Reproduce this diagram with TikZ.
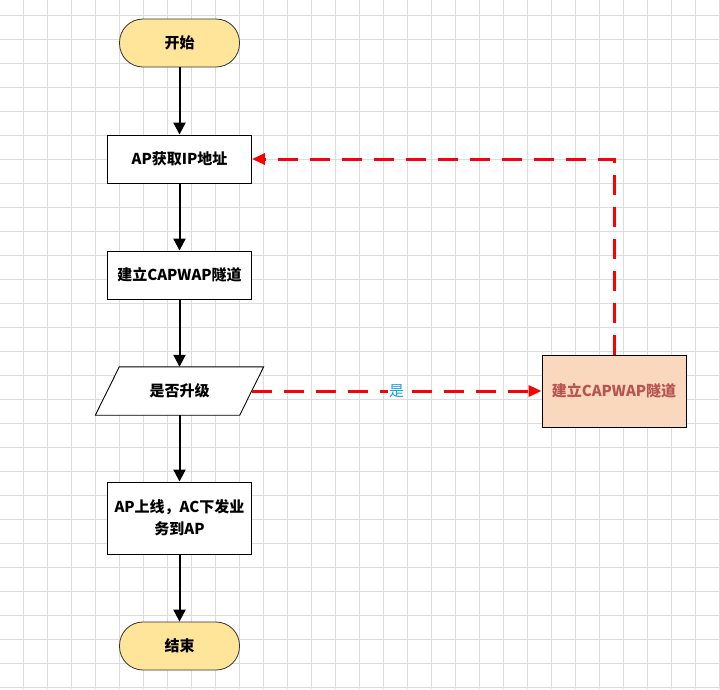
\documentclass[tikz,border=0pt]{standalone}
\usepackage{fontspec}
\newfontfamily\cjk{Noto Sans CJK SC}
\usetikzlibrary{arrows.meta}

\definecolor{termfill}{HTML}{FFE599}
\definecolor{peach}{HTML}{FAD8BD}
\definecolor{tunneltext}{HTML}{B85450}
\definecolor{yesblue}{HTML}{1BA1E2}
\definecolor{gridgrey}{HTML}{DCDCDC}

\tikzset{
  label font/.style={font=\cjk\bfseries\fontsize{15}{22}\selectfont},
  terminal/.style={label font, draw=black!80, line width=0.8pt, fill=termfill,
    rounded corners=23.5pt, minimum width=120, minimum height=48, inner sep=0pt},
  procbox/.style={label font, draw=black, line width=0.9pt, fill=white,
    minimum width=144, minimum height=48, inner sep=0pt, align=center},
  decision/.style={label font, draw=none, minimum width=144, minimum height=48, inner sep=0pt},
  tunnelbox/.style={procbox, fill=peach, text=tunneltext, minimum height=72},
  flowline/.style={draw=black, line width=2pt, -{Triangle[length=12pt,width=12pt]}},
  yesline/.style={draw=red, line width=3pt, dash pattern=on 20pt off 12pt,
    -{Triangle[length=13pt,width=11pt]}},
  yeslabel/.style={font=\cjk\fontsize{15}{18}\selectfont, text=yesblue, fill=white, inner sep=1pt},
  gridline/.style={draw=gridgrey, line width=1pt}
}

\begin{document}
\begin{tikzpicture}[x=1pt, y=-1pt]

	\useasboundingbox (0, 0) rectangle (720, 689);
	\fill[white] (0, 0) rectangle (720, 689);
	\foreach \gx in {0,...,29}
		\draw[gridline] (23.3+24*\gx, 0) -- (23.3+24*\gx, 689);
	\foreach \gy in {0,...,28}
		\draw[gridline] (0, 15+24*\gy) -- (720, 15+24*\gy);

	\node[terminal]  (start)   at (179.5, 43)   {开始};
	\node[procbox]   (getip)   at (179.5, 159)  {AP获取IP地址};
	\node[procbox]   (tunnel)  at (179.5, 275)  {建立CAPWAP隧道};
	\node[decision]  (upgrade) at (179.5, 391)  {};
	\node[procbox, minimum height=72] (online) at (179.5, 518) {AP上线，AC下发业\\务到AP};
	\node[terminal]  (finish)  at (179.5, 646)  {结束};
	\node[tunnelbox] (retunnel) at (614, 391)   {建立CAPWAP隧道};

	\draw[line width=0.9pt, fill=white]
		([xshift=12]upgrade.north west) -- ([xshift=12]upgrade.north east)
		-- ([xshift=-12]upgrade.south east) -- ([xshift=-12]upgrade.south west) -- cycle;
	\node[label font] (upgradetext) at (upgrade.center) {是否升级};

	\path (start) edge[flowline] (getip);
	\path (getip) edge[flowline] (tunnel);
	\path (tunnel) edge[flowline] (upgrade);
	\path (upgrade) edge[flowline] (online);
	\path (online) edge[flowline] (finish);

	\path (upgrade.east) edge[yesline] node[yeslabel] (yes) {是} (retunnel.west);
	\draw[yesline] (retunnel.north) |- (getip.east);

\end{tikzpicture}
\end{document}
